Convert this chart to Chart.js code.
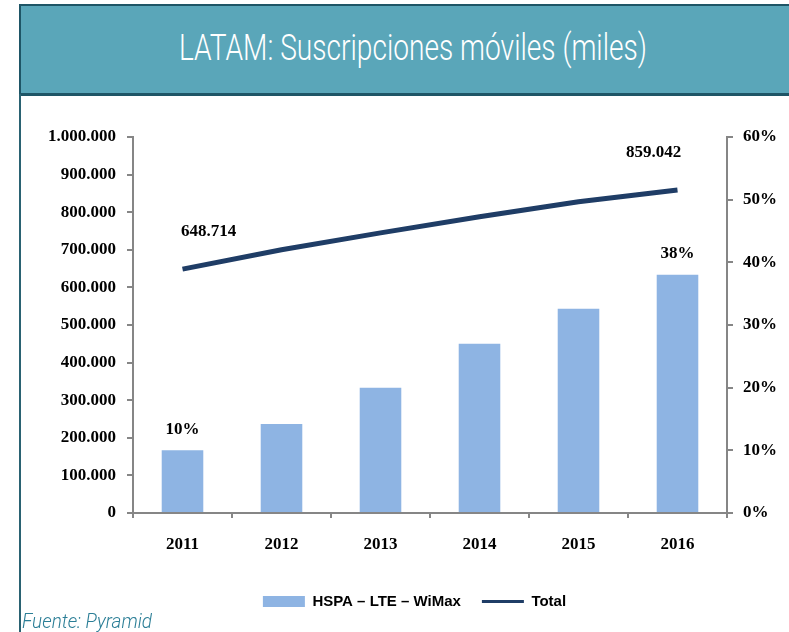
<!DOCTYPE html>
<html>
<head>
<meta charset="utf-8">
<script src="https://cdn.jsdelivr.net/npm/chart.js@4/dist/chart.umd.min.js"></script>
<style>
  html, body { margin: 0; padding: 0; background: #fff; }
  #wrap { position: relative; width: 789px; height: 632px; overflow: hidden; }
  #chartBox { position: absolute; left: 0; top: 0; width: 789px; height: 632px; }
  #banner {
    position: absolute; left: 19px; top: 4px; width: 790px; height: 87px;
    background: #5AA6B9; border-top: 2px solid #1E5566; border-left: 2px solid #1E5566;
    border-bottom: 3px solid #1E5566;
  }
  #title {
    position: absolute; left: 0; top: 20px; width: 780px; text-align: center;
    color: #fff; font-family: Roboto, sans-serif; font-weight: 300; font-size: 37px;
    transform: scaleX(0.76); transform-origin: 398px 0; white-space: nowrap;
  }
  #leftLine { position: absolute; left: 19px; top: 94px; width: 2px; height: 540px; background: #2A6272; }
  #source {
    position: absolute; left: 22px; top: 609px; color: #2B7E96;
    font-family: Roboto, sans-serif; font-style: italic; font-weight: 300; font-size: 21px;
    transform: scaleX(0.9); transform-origin: 0 0; white-space: nowrap;
  }
</style>
</head>
<body>
<div id="wrap">
  <div id="chartBox"><canvas id="movilesChart"></canvas></div>
  <div id="banner"><div id="title">LATAM: Suscripciones móviles (miles)</div></div>
  <div id="leftLine"></div>
  <div id="source">Fuente: Pyramid</div>
</div>
<script>
const years = ["2011", "2012", "2013", "2014", "2015", "2016"];
// share of HSPA - LTE - WiMax (%), right axis
const shareHspa = [10, 14.2, 20, 27, 32.6, 38];
// total subscriptions (thousands), left axis
const totalSubs = [648714, 700000, 745000, 788000, 828000, 859042];
const leftTicks = [0, 100000, 200000, 300000, 400000, 500000, 600000, 700000, 800000, 900000, 1000000];
const rightTicks = [0, 10, 20, 30, 40, 50, 60];
const labelledPoints = [0, 5];

const axisGray = "#868686";
const tickFont = { family: "'Liberation Serif', serif", weight: "bold", size: 17 };

function dots(n) {
    return String(n).replace(/\B(?=(\d{3})+(?!\d))/g, ".");
}

const dataLabels = {
    id: "dataLabels",
    afterDatasetsDraw(chart) {
        const c = chart.ctx;
        c.save();
        c.font = "bold 17px 'Liberation Serif', serif";
        c.fillStyle = "#000";
        c.textAlign = "center";
        c.textBaseline = "middle";
        const bars = chart.getDatasetMeta(0).data;
        const line = chart.getDatasetMeta(1).data;
        labelledPoints.forEach(i => {
            c.fillText(Math.round(shareHspa[i]) + "%", bars[i].x, bars[i].y - 21);
            const dx = i === 0 ? 26 : -24;
            c.fillText(dots(totalSubs[i]), line[i].x + dx, line[i].y - 37);
        });
        c.restore();
    }
};

const ctx = document.getElementById("movilesChart");

new Chart(ctx, {
    type: "bar",
    data: {
        labels: years,
        datasets: [{
            label: "HSPA \u2013 LTE \u2013 WiMax",
            data: shareHspa,
            yAxisID: "y1",
            backgroundColor: "#8EB4E3",
            borderWidth: 0,
            categoryPercentage: 1,
            barPercentage: 0.42
        }, {
            type: "line",
            label: "Total",
            data: totalSubs,
            yAxisID: "y",
            borderColor: "#1F3D66",
            backgroundColor: "#1F3D66",
            borderWidth: 5,
            pointRadius: 0,
            tension: 0
        }]
    },
    options: {
        responsive: true,
        maintainAspectRatio: false,
        animation: false,
        layout: { padding: { top: 137, left: 40, right: 0, bottom: 13 } },
        plugins: {
            tooltip: { enabled: false },
            legend: {
                position: "bottom",
                labels: {
                    usePointStyle: true,
                    pointStyleWidth: 42,
                    boxHeight: 11,
                    padding: 21,
                    color: "#000",
                    font: { family: "'Liberation Sans', sans-serif", weight: "bold", size: 15 },
                    generateLabels(chart) {
                        const items = Chart.defaults.plugins.legend.labels.generateLabels(chart);
                        items.forEach((it, i) => {
                            it.pointStyle = i === 0 ? "rect" : "line";
                            it.lineWidth = i === 0 ? 0 : 3;
                        });
                        return items;
                    }
                }
            }
        },
        scales: {
            x: {
                grid: { drawOnChartArea: false, tickLength: 5, color: axisGray, lineWidth: 2 },
                border: { color: axisGray, width: 2 },
                ticks: { color: "#000", font: tickFont, padding: 16 },
                afterFit(scale) { scale.height = 60; }
            },
            y: {
                position: "left",
                min: 0,
                max: 1000000,
                afterBuildTicks(scale) { scale.ticks = leftTicks.map(v => ({ value: v })); },
                grid: { drawOnChartArea: false, tickLength: 6, color: axisGray, lineWidth: 2 },
                border: { color: axisGray, width: 2 },
                ticks: { color: "#000", font: tickFont, padding: 11, callback: v => dots(v) },
                afterFit(scale) { scale.width = 93; }
            },
            y1: {
                position: "right",
                min: 0,
                max: 60,
                afterBuildTicks(scale) { scale.ticks = rightTicks.map(v => ({ value: v })); },
                grid: { drawOnChartArea: false, tickLength: 6, color: axisGray, lineWidth: 2 },
                border: { color: axisGray, width: 2 },
                ticks: { color: "#000", font: tickFont, padding: 10, callback: v => v + "%" },
                afterFit(scale) { scale.width = 62; }
            }
        }
    },
    plugins: [dataLabels]
});
</script>
</body>
</html>
